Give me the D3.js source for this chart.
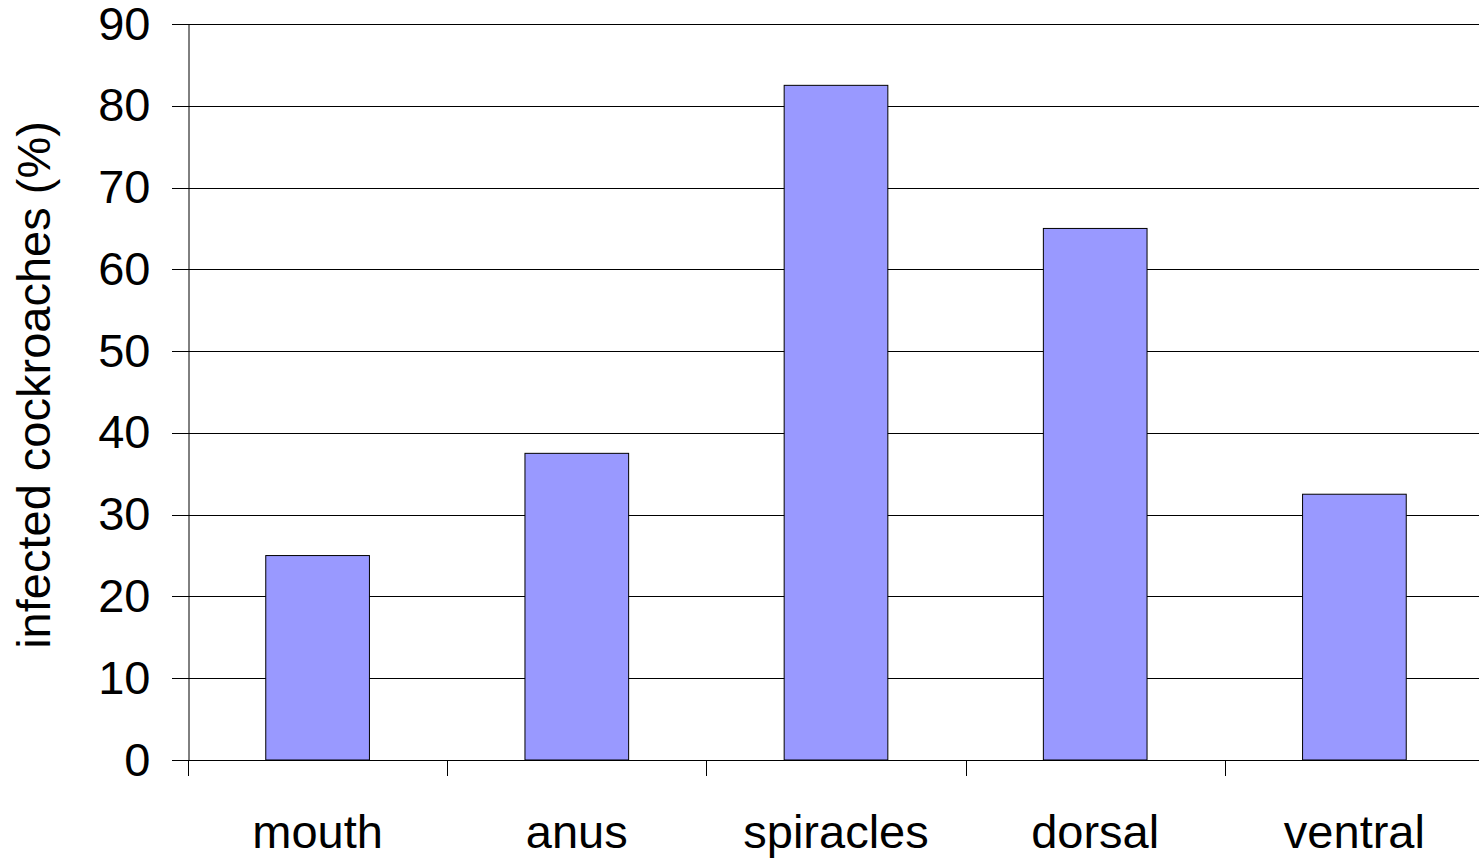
<!DOCTYPE html>
<html>
<head>
<meta charset="utf-8">
<script src="https://cdn.jsdelivr.net/npm/d3@7"></script>
<style>
  body { margin: 0; background: #fff; }
  svg { display: block; }
</style>
</head>
<body>
<script>
// bar chart: infected cockroaches by body part
const categories = ["mouth", "anus", "spiracles", "dorsal", "ventral"];
const values = [25, 37.5, 82.5, 65, 32.5];
const yTicks = [0, 10, 20, 30, 40, 50, 60, 70, 80, 90];

const w = 1479;
const h = 860;
const plotLeft = 188, plotRight = 1484, plotTop = 24, plotBottom = 760;
const font = "'Liberation Sans', Arial, sans-serif";

const svg = d3.select('body')
  .append('svg')
  .attr('width', w)
  .attr('height', h);

const x = d3.scaleBand()
  .domain(categories)
  .range([plotLeft, plotRight])
  .paddingInner(0.6)
  .paddingOuter(0.3);

const y = d3.scaleLinear()
  .domain([0, 90])
  .range([plotBottom, plotTop]);

// gridlines
svg.append('g')
  .selectAll('line')
  .data(yTicks)
  .enter()
  .append('line')
  .attr('x1', plotLeft - 16)
  .attr('x2', w)
  .attr('y1', d => Math.round(y(d)) + 0.5)
  .attr('y2', d => Math.round(y(d)) + 0.5)
  .attr('stroke', '#000')
  .attr('stroke-width', 1);

// bars
svg.selectAll('.bar')
  .data(values)
  .enter()
  .append('rect')
  .attr('class', 'bar')
  .attr('x', (d, i) => x(categories[i]))
  .attr('width', x.bandwidth())
  .attr('y', d => y(d))
  .attr('height', d => y(0) - y(d))
  .attr('fill', '#9999ff')
  .attr('stroke', '#000')
  .attr('stroke-width', 1);

// y axis
const yAxis = d3.axisLeft(y).tickValues(yTicks).tickSize(16).tickPadding(22);
svg.append('g')
  .attr('transform', 'translate(' + (plotLeft + 0.5) + ',0)')
  .call(yAxis)
  .call(g => g.select('.domain').attr('stroke', '#000'))
  .call(g => g.selectAll('.tick line').remove())
  .call(g => g.selectAll('text')
    .style('font-family', font)
    .style('font-size', '47px')
    .attr('fill', '#000'));

// x axis ticks between categories
const step = x.step();
const xTickPos = d3.range(categories.length).map(i => plotLeft + i * step);
svg.append('line')
  .attr('x1', plotLeft).attr('x2', w)
  .attr('y1', plotBottom + 0.5).attr('y2', plotBottom + 0.5)
  .attr('stroke', '#000');
svg.append('g')
  .selectAll('line')
  .data(xTickPos)
  .enter()
  .append('line')
  .attr('x1', d => Math.round(d) + 0.5)
  .attr('x2', d => Math.round(d) + 0.5)
  .attr('y1', plotBottom)
  .attr('y2', plotBottom + 16)
  .attr('stroke', '#000');

svg.append('g')
  .selectAll('text')
  .data(categories)
  .enter()
  .append('text')
  .attr('x', d => x(d) + x.bandwidth() / 2)
  .attr('y', 848)
  .attr('text-anchor', 'middle')
  .style('font-family', font)
  .style('font-size', '47px')
  .text(d => d);

// y label
svg.append('text')
  .attr('transform', 'translate(50,385) rotate(-90)')
  .attr('text-anchor', 'middle')
  .style('font-family', font)
  .style('font-size', '47px')
  .text('infected cockroaches (%)');
</script>
</body>
</html>
